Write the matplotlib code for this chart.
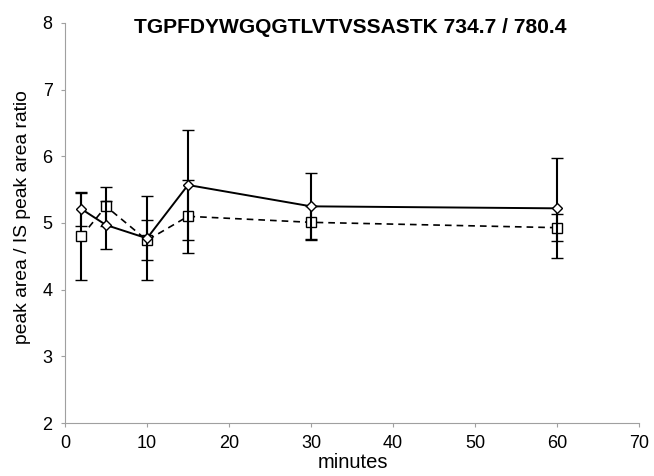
import matplotlib.pyplot as plt

plt.rcParams['font.family'] = ['Liberation Sans', 'DejaVu Sans']

minutes = [2, 5, 10, 15, 30, 60]

# solid line, diamond markers
ratio_a = [5.21, 4.97, 4.77, 5.57, 5.25, 5.22]
err_a = [0.25, 0.36, 0.63, 0.83, 0.50, 0.75]

# dashed line, square markers
ratio_b = [4.80, 5.25, 4.74, 5.10, 5.01, 4.93]
err_b = [0.65, 0.29, 0.30, 0.55, 0.25, 0.20]

W, H = 654, 476
fig = plt.figure(figsize=(W / 100, H / 100), dpi=100)
ax = fig.add_axes([65 / W, 1 - 423 / H, 574 / W, 400 / H])

ax.errorbar(minutes, ratio_b, yerr=err_b, color='black', linestyle=(0, (4, 3)),
            linewidth=1.2, marker='s', markersize=7, markerfacecolor='white',
            markeredgecolor='black', markeredgewidth=1, capsize=4,
            elinewidth=1.5, capthick=1.5, zorder=3)
ax.errorbar(minutes, ratio_a, yerr=err_a, color='black', linestyle='-',
            linewidth=1.4, marker='D', markersize=5.5, markerfacecolor='white',
            markeredgecolor='black', markeredgewidth=1, capsize=4,
            elinewidth=1.5, capthick=1.5, zorder=4)

ax.set_xlim(0, 70)
ax.set_ylim(2, 8)
ax.set_xticks(range(0, 71, 10))
ax.set_yticks(range(2, 9))

for s in ['top', 'right']:
    ax.spines[s].set_visible(False)
for s in ['left', 'bottom']:
    ax.spines[s].set_color('#a0a0a0')
ax.tick_params(direction='out', length=3, color='#a0a0a0', labelsize=13)
ax.tick_params(axis='y', pad=6)
ax.tick_params(axis='x', pad=6)

fig.text(353 / W, 1 - 472 / H, 'minutes', fontsize=14.5,
         ha='center', va='bottom')
fig.text(23 / W, 1 - 217 / H, 'peak area / IS peak area ratio', fontsize=13.9,
         rotation=90, ha='center', va='center')
fig.text(350 / W, 1 - 33 / H, 'TGPFDYWGQGTLVTVSSASTK 734.7 / 780.4',
         fontsize=15.1, fontweight='bold', ha='center', va='baseline')

fig.savefig('out.png', dpi=100)
